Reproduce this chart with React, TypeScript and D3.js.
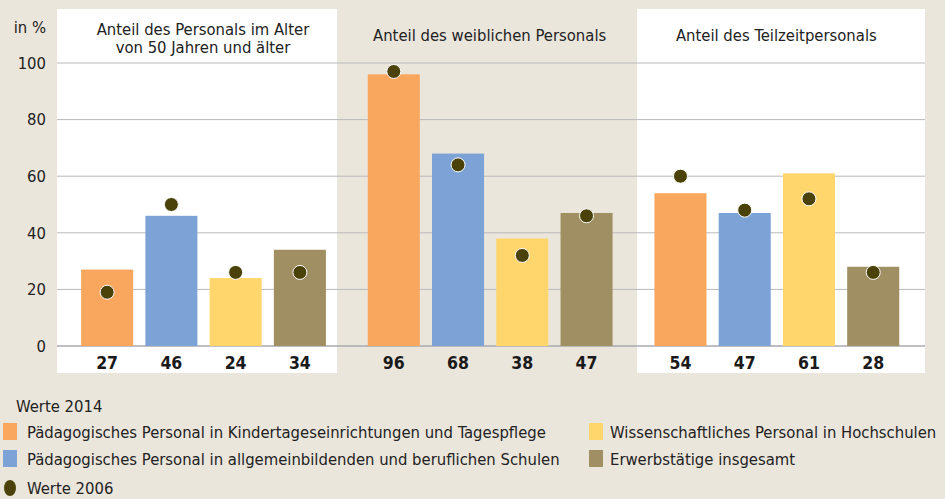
import React from 'react';
import * as d3 from 'd3';

const groups = ['alter', 'weiblich', 'teilzeit'];
const groupTitles = [
  ['Anteil des Personals im Alter', 'von 50 Jahren und älter'],
  ['Anteil des weiblichen Personals'],
  ['Anteil des Teilzeitpersonals'],
];
const categories = ['kita', 'schule', 'hochschule', 'gesamt'];
const categoryLabels = [
  'Pädagogisches Personal in Kindertageseinrichtungen und Tagespflege',
  'Pädagogisches Personal in allgemeinbildenden und beruflichen Schulen',
  'Wissenschaftliches Personal in Hochschulen',
  'Erwerbstätige insgesamt',
];
const colors = ['#F9A65F', '#7DA2D5', '#FED66C', '#A08F62'];
const values2014 = [
  [27, 46, 24, 34],
  [96, 68, 38, 47],
  [54, 47, 61, 28],
];
const values2006 = [
  [19, 50, 26, 26],
  [97, 64, 32, 46],
  [60, 48, 52, 26],
];
const yTicks = [0, 20, 40, 60, 80, 100];

const font = '"DejaVu Sans Condensed", "DejaVu Sans", sans-serif';
const bg = '#EBE6DC';

const App = () => {
  const width = 945;
  const height = 499;

  const y = d3.scaleLinear().domain([0, 100]).range([346, 63]);
  const x0 = d3.scaleBand().domain(groups).range([60, 920]);
  const x1 = d3.scaleBand().domain(categories).range([15, 272]).paddingInner(0.19).paddingOuter(0.095);

  // white panels behind first and third group
  const panels = [
    { x: 57, w: 280 },
    { x: 637, w: 288 },
  ];

  return (
    <svg width={width} height={height} style={{ position: 'absolute', left: 0, top: 0, background: bg }} fontFamily={font}>
      <rect x={0} y={0} width={width} height={height} fill={bg} />
      {panels.map((p, i) => (
        <rect key={i} x={p.x} y={9} width={p.w} height={364} fill="#fff" />
      ))}

      {yTicks.map(t => (
        <g key={t}>
          <line x1={57} x2={925} y1={y(t)} y2={y(t)} stroke={t === 0 ? '#a9a9b0' : '#b9b9b9'} strokeWidth={t === 0 ? 1.5 : 1} />
          <text x={46} y={y(t)} dy="0.35em" textAnchor="end" fontSize={16.5} fill="#222">{t}</text>
        </g>
      ))}
      <text x={46} y={33} textAnchor="end" fontSize={16.5} fill="#222">in %</text>

      {groups.map((g, gi) => {
        const gx = x0(g) as number;
        const cx = gx + 143;
        const lines = groupTitles[gi];
        return (
          <g key={g}>
            {lines.map((l, li) => (
              <text key={li} x={cx} y={lines.length > 1 ? 35 + li * 18 : 41} textAnchor="middle" fontSize={16.5} fill="#222">{l}</text>
            ))}
            {categories.map((c, ci) => {
              const bx = gx + (x1(c) as number);
              const bw = x1.bandwidth();
              const v = values2014[gi][ci];
              const v6 = values2006[gi][ci];
              return (
                <g key={c}>
                  <rect x={bx} y={y(v)} width={bw} height={y(0) - y(v)} fill={colors[ci]} />
                  <text x={bx + bw / 2} y={369} textAnchor="middle" fontSize={17.5} fontWeight="bold" fill="#1a1a1a">{v}</text>
                  <circle cx={bx + bw / 2} cy={y(v6)} r={7} fill="#4B4209" stroke="#fff" strokeWidth={1} />
                </g>
              );
            })}
          </g>
        );
      })}

      <text x={16} y={412} fontSize={16.5} fill="#222">Werte 2014</text>
      {categoryLabels.map((l, i) => {
        const col = i === 2 || i === 3 ? 1 : 0;
        const row = i === 1 || i === 3 ? 1 : 0;
        const lx = col === 0 ? 3 : 589;
        const ly = 423 + row * 27;
        return (
          <g key={l}>
            <rect x={lx} y={ly} width={14} height={17} fill={colors[i]} />
            <text x={lx + (col === 0 ? 24 : 21)} y={ly + 15} fontSize={16.5} fill="#222">{l}</text>
          </g>
        );
      })}
      <ellipse cx={10} cy={488} rx={6} ry={8} fill="#4B4209" />
      <text x={27} y={494} fontSize={16.5} fill="#222">Werte 2006</text>
    </svg>
  );
};

export default App;
